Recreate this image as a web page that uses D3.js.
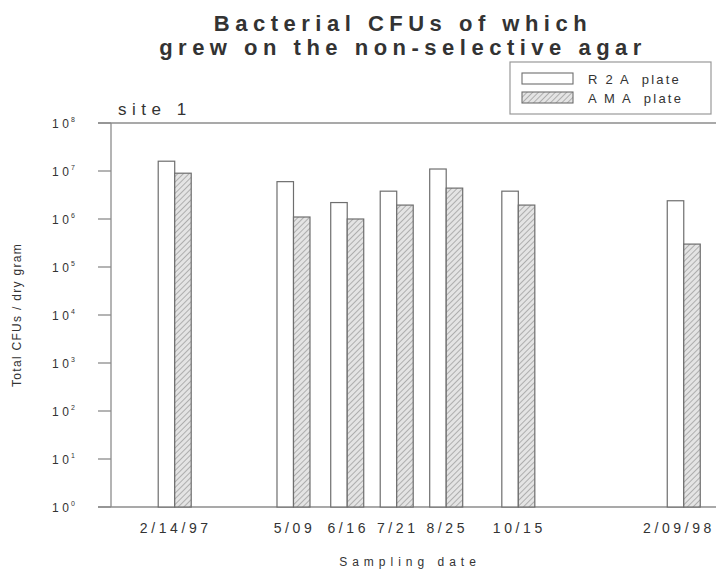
<!DOCTYPE html>
<html>
<head>
<meta charset="utf-8">
<script src="https://cdn.jsdelivr.net/npm/d3@7"></script>
<style>
  body { margin: 0; background: #fff; }
  text { font-family: "Liberation Sans", Arial, sans-serif; fill: #333; }
</style>
</head>
<body>
<div id="chart-area"></div>
<script>
// data
let dates = ["1997-02-14", "1997-05-09", "1997-06-16", "1997-07-21", "1997-08-25", "1997-10-15", "1998-02-09"];
let dateLabels = ["2/14/97", "5/09", "6/16", "7/21", "8/25", "10/15", "2/09/98"];
let r2a = [1.6e7, 6.0e6, 2.2e6, 3.8e6, 1.1e7, 3.8e6, 2.4e6];
let ama = [9.0e6, 1.1e6, 1.0e6, 1.95e6, 4.4e6, 1.95e6, 3.0e5];
let seriesNames = ["R 2 A  plate", "A M A  plate"];
let yTicks = [0, 1, 2, 3, 4, 5, 6, 7, 8];

let W = 718, H = 578;
let margin = { lft: 112.5, top: 123, bot: 71 };
let plotH = H - margin.top - margin.bot;

let svg = d3.select("#chart-area")
  .append("svg")
    .attr("width", W)
    .attr("height", H);

// hatch pattern for AMA
let defs = svg.append("defs");
let pat = defs.append("pattern")
  .attr("id", "hatch")
  .attr("patternUnits", "userSpaceOnUse")
  .attr("width", 4)
  .attr("height", 4)
  .attr("patternTransform", "rotate(45)");
pat.append("rect").attr("width", 4).attr("height", 4).attr("fill", "#e4e4e4");
pat.append("line")
  .attr("x1", 0).attr("y1", 0).attr("x2", 0).attr("y2", 4)
  .attr("stroke", "#8a8a8a").attr("stroke-width", 1.2);

let parse = d3.timeParse("%Y-%m-%d");
let data = dates.map((d, i) => ({ date: parse(d), label: dateLabels[i], r2a: r2a[i], ama: ama[i] }));

// scales (sampling dates sit on a real time axis)
let pxPerDay = 1.414;
let x0 = parse("1997-01-01"), x1 = parse("1998-03-01");
let x = d3.scaleTime()
  .domain([x0, x1])
  .range([margin.lft, margin.lft + d3.timeDay.count(x0, x1) * pxPerDay]);

let y = d3.scaleLog()
  .domain([1, 1e8])
  .range([margin.top + plotH, margin.top]);

let barW = 16.5;
let axisColor = "#8c8c8c";

// frame lines
svg.append("line")
  .attr("x1", 98).attr("x2", 716)
  .attr("y1", y(1e8)).attr("y2", y(1e8))
  .attr("stroke", axisColor).attr("stroke-width", 1.3);
svg.append("line")
  .attr("x1", 98).attr("x2", 716)
  .attr("y1", y(1)).attr("y2", y(1))
  .attr("stroke", axisColor).attr("stroke-width", 1.3);
svg.append("line")
  .attr("x1", 111).attr("x2", 111)
  .attr("y1", y(1e8)).attr("y2", y(1))
  .attr("stroke", axisColor).attr("stroke-width", 1.3);

// y ticks + labels
let yt = svg.append("g").attr("class", "y-axis")
  .selectAll("g").data(yTicks).enter().append("g")
    .attr("transform", (d) => `translate(0, ${y(Math.pow(10, d))})`);
yt.append("line")
  .attr("x1", 98).attr("x2", 111)
  .attr("stroke", axisColor).attr("stroke-width", 1.3);
yt.append("text")
  .attr("x", 52)
  .attr("y", 4.5)
  .attr("font-size", "12px")
  .attr("letter-spacing", "3.5px")
  .text("10");
yt.append("text")
  .attr("x", 71)
  .attr("y", -1)
  .attr("font-size", "7px")
  .text((d) => d);

// bars
let groups = svg.append("g").selectAll("g").data(data).enter().append("g");
groups.append("rect")
  .attr("x", (d) => x(d.date) - barW)
  .attr("y", (d) => y(d.r2a))
  .attr("width", barW)
  .attr("height", (d) => y(1) - y(d.r2a))
  .attr("fill", "#fff")
  .attr("stroke", "#6e6e6e")
  .attr("stroke-width", 1.2);
groups.append("rect")
  .attr("x", (d) => x(d.date))
  .attr("y", (d) => y(d.ama))
  .attr("width", barW)
  .attr("height", (d) => y(1) - y(d.ama))
  .attr("fill", "url(#hatch)")
  .attr("stroke", "#6e6e6e")
  .attr("stroke-width", 1.2);

// x tick labels (kept inside the right edge)
svg.append("g").selectAll("text").data(data).enter().append("text")
  .attr("y", 533)
  .attr("font-size", "14px")
  .attr("letter-spacing", "3.6px")
  .text((d) => d.label)
  .each(function (d) {
    let w = this.getComputedTextLength();
    let left = Math.min(x(d.date) + 1 - w / 2, W - 3 - w);
    d3.select(this).attr("x", left);
  });

// axis titles
svg.append("text")
  .attr("x", 410)
  .attr("y", 566)
  .attr("text-anchor", "middle")
  .attr("font-size", "12px")
  .attr("letter-spacing", "5px")
  .text("Sampling date");

svg.append("text")
  .attr("transform", `translate(21, 315) rotate(-90)`)
  .attr("text-anchor", "middle")
  .attr("font-size", "12px")
  .attr("letter-spacing", "1.3px")
  .text("Total CFUs / dry gram");

// title
let titleLines = ["Bacterial CFUs of which", "grew on the non-selective agar"];
svg.append("g").selectAll("text").data(titleLines).enter().append("text")
  .attr("x", 403)
  .attr("y", (d, i) => 31 + i * 24)
  .attr("text-anchor", "middle")
  .attr("font-size", "22px")
  .attr("font-weight", "bold")
  .attr("letter-spacing", "5.5px")
  .text((d) => d);

svg.append("text")
  .attr("x", 118).attr("y", 115)
  .attr("font-size", "17px")
  .attr("letter-spacing", "5.5px")
  .text("site 1");

// legend
let lg = svg.append("g");
lg.append("rect")
  .attr("x", 510).attr("y", 62)
  .attr("width", 201).attr("height", 52)
  .attr("fill", "#fff")
  .attr("stroke", "#999").attr("stroke-width", 1.2);
let fills = ["#fff", "url(#hatch)"];
let li = lg.selectAll("g").data(seriesNames).enter().append("g")
  .attr("transform", (d, i) => `translate(0, ${i * 19})`);
li.append("rect")
  .attr("x", 522).attr("y", 73)
  .attr("width", 51).attr("height", 11)
  .attr("fill", (d, i) => fills[i])
  .attr("stroke", "#6e6e6e").attr("stroke-width", 1.1);
li.append("text")
  .attr("x", 588).attr("y", 84)
  .attr("font-size", "13px")
  .attr("letter-spacing", "2.2px")
  .style("white-space", "pre")
  .text((d) => d);
</script>
</body>
</html>
